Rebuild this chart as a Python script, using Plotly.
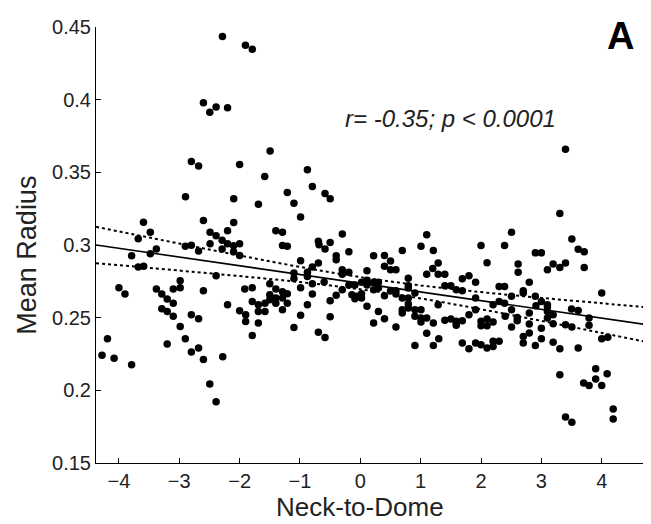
import plotly.graph_objects as go

# Scatter data: (Neck-to-Dome, Mean Radius)
neck_to_dome = [
    -2.285, -1.904, -1.79, -2.6, -2.495, -2.39, -2.2, -1.495, -2.80, -2.68, -2.0,
    -1.584, -2.897, -2.098, -1.689, -3.593, -2.60, -2.098, -3.48, -2.49, -2.39, -2.2, -3.68, -2.29,
    -2.49, -2.2, -2.0, -2.90, -2.80, -2.10, -3.38, -2.68, -2.29, -2.10, -3.79, -3.48, -2.0, -3.68,
    -3.59, -2.39, -2.985, -4.0, -3.90, -3.38, -3.29, -3.20, -3.10, -3.10, -2.985, -2.60, -1.915,
    -1.79, -2.2, -3.29, -3.2, -2.0, -1.79, -1.69, -1.58, -1.50, -1.50, -1.69, -1.58,
    -3.10, -2.985, -2.80, -2.68, -4.19, -4.28, -4.08, -3.79, -3.2, -2.90, -2.80, -2.68, -2.60, -2.28,
    -2.495, -2.39, -1.9, -1.9, -1.79, -1.69,
    -0.877, -0.795, -1.21, -0.585, -0.50, -1.10, -0.99, -1.40, -1.29, -0.298, -0.695, -0.684, -0.50,
    -1.29, -1.21, -0.585, 1.10, 1.005, 1.21, -0.19, -0.40, -0.40, 0.22, 0.40, 0.695, 0.50, -0.99,
    -0.695, 1.29, 0.40, 0.50, 0.59, 1.20, 1.10, 1.29, 1.40, 0.11, -0.30, -0.19, -0.30, -0.877,
    -0.877, -0.795, -1.10, -1.10, -0.99, -1.50, -1.40, -1.29, -1.21, -1.40, -1.40, -1.29, -1.21,
    -1.29, -0.795, -0.795, -0.877, -0.60, -0.50, -0.40, -0.30, -0.19, -0.09, -0.14, -0.06, -0.09,
    0.02, 0.11, 0.11, 0.22, 0.30, 0.22, 0.30, 0.02, 0.02, 0.11, 0.30, 0.40, 0.50, 0.59, 0.59,
    0.695, 0.795, 0.695, 0.795, 0.795, 0.795, 0.795, 0.795, 0.905, 0.905, 1.005, 1.40, 1.50, 1.59, 1.29,
    3.306, 2.505, 2.0, 2.39, 3.505, 2.90, 3.0, 3.61, 3.71, 2.10, 2.615, 2.615, 3.195, 3.40, 3.10,
    3.306, 3.71, 1.69, 1.80, 1.91, 2.30, 2.39, 2.80, 2.70, 2.70, 1.69, 2.505, 2.90, 1.91, 4.0,
    2.30, 2.39, 2.20, 3.0, 3.10, 3.10, 2.91, 2.505, 1.91, 3.50, 3.61,
    1.69, 1.80, 1.91, 2.0, 2.10, 2.20, 2.20, 2.30, 1.59, 1.59, 1.69, 1.80, 2.0, 2.0, 2.10, 2.10,
    2.20, 2.40, 2.505, 2.60, 2.60, 2.70, 2.70, 2.80, 2.80, 2.80, 2.90, 3.0, 3.0, 3.10, 3.10, 3.195,
    3.195, 3.195, 3.306, 3.40, 3.505, 3.61, 3.79, 3.79, 4.0, 4.10, 3.306, 3.70, 3.79, 3.90, 3.90,
    4.0, 4.09, 3.40, 3.505, 4.19, 4.19,
    -0.99, -1.10, -0.695, -0.585, -0.50, 0.22, 0.40, 0.59, 0.695, 0.905, 1.005, 1.005, 1.10, 1.21,
    1.10, 1.30, 0.905, 1.21, 1.40, 1.50, 1.59,
    3.40,
]
mean_radius = [
    0.4435, 0.4375, 0.4347, 0.3978, 0.3914, 0.395, 0.3944, 0.3646, 0.3575, 0.3543, 0.3554,
    0.3472, 0.3332, 0.3318, 0.3281, 0.3157, 0.3169, 0.3155, 0.3087, 0.3087, 0.3063, 0.3098, 0.3043, 0.3032,
    0.3008, 0.3008, 0.3008, 0.2992, 0.2999, 0.2994, 0.2972, 0.2958, 0.2972, 0.2953, 0.2926, 0.294, 0.2928, 0.2848,
    0.2853, 0.2788, 0.2754, 0.2706, 0.2662, 0.2697, 0.2662, 0.2628, 0.2600, 0.2697, 0.2706, 0.2685, 0.2697,
    0.2706, 0.2589, 0.2561, 0.2543, 0.2547, 0.2612, 0.2589, 0.26, 0.2623, 0.2658, 0.2543, 0.2543,
    0.2509, 0.244, 0.252, 0.2492, 0.2355, 0.2241, 0.222, 0.2176, 0.2318, 0.2355, 0.2263, 0.2291, 0.2213, 0.2231,
    0.2043, 0.1922, 0.252, 0.2474, 0.2378, 0.2463,
    0.3517, 0.3403, 0.3362, 0.3355, 0.3318, 0.3288, 0.3192, 0.3098, 0.3087, 0.3075, 0.3025, 0.3001, 0.3018,
    0.2997, 0.2992, 0.2972, 0.307, 0.2992, 0.2963, 0.2953, 0.2926, 0.2898, 0.2926, 0.2928, 0.2963, 0.289, 0.2891,
    0.2876, 0.2876, 0.2853, 0.2829, 0.2829, 0.2839, 0.2798, 0.2798, 0.2798, 0.2823, 0.2829, 0.2813, 0.2799, 0.2813,
    0.2784, 0.2848, 0.2807, 0.277, 0.2706, 0.2733, 0.2697, 0.2678, 0.2664, 0.2635, 0.26, 0.2635, 0.26,
    0.2554, 0.2733, 0.2662, 0.2589, 0.2745, 0.2616, 0.2655, 0.2692, 0.2724, 0.2724, 0.2658, 0.2647, 0.263,
    0.2743, 0.2757, 0.2724, 0.2743, 0.2743, 0.2692, 0.2704, 0.2664, 0.2635, 0.2578, 0.2543, 0.2651, 0.2685, 0.2685, 0.2662,
    0.2635, 0.2635, 0.2554, 0.2772, 0.2719, 0.2704, 0.2594, 0.2566, 0.2669, 0.2554, 0.2554, 0.2719, 0.2719, 0.2692, 0.2589,
    0.3217, 0.3087, 0.2997, 0.2997, 0.3041, 0.2946, 0.2946, 0.297, 0.2953, 0.2878, 0.2869, 0.2812, 0.2869, 0.2876, 0.2829,
    0.2846, 0.2846, 0.2767, 0.2788, 0.2743, 0.2715, 0.2715, 0.2743, 0.2685, 0.2669, 0.2685, 0.2647, 0.2647, 0.2635, 0.2669,
    0.2612, 0.26, 0.2589, 0.2612, 0.2589, 0.2573, 0.2582, 0.2554, 0.2554, 0.2559, 0.255,
    0.2325, 0.2286, 0.2325, 0.2314, 0.2291, 0.2337, 0.2302, 0.2337, 0.2475, 0.2447, 0.2479, 0.252, 0.2475, 0.2444, 0.249, 0.2444,
    0.247, 0.2509, 0.2435, 0.2502, 0.2479, 0.2371, 0.2325, 0.2532, 0.2456, 0.2394, 0.2309, 0.2428, 0.2355, 0.2543, 0.2497, 0.252,
    0.2458, 0.233, 0.2286, 0.2451, 0.2435, 0.2291, 0.2497, 0.2447, 0.2355, 0.2365, 0.2107, 0.205, 0.2034, 0.2149, 0.2078,
    0.2034, 0.2114, 0.1816, 0.178, 0.1871, 0.1803,
    0.2516, 0.2433, 0.2399, 0.2364, 0.2506, 0.2463, 0.2492, 0.2435, 0.2532, 0.2509, 0.2497, 0.247, 0.2497, 0.2463,
    0.2392, 0.2355, 0.2309, 0.2309, 0.2483, 0.249, 0.2463,
    0.3658,
]

# Regression line and confidence band
fit_x = [-4.38, -3, -2, -1, 0, 1, 2, 3, 4, 4.8]
fit_y = [0.3000, 0.2917, 0.2857, 0.2797, 0.2737, 0.2677, 0.2617, 0.2557, 0.2497, 0.2449]
band_upper = [0.3125, 0.3010, 0.2928, 0.2849, 0.2779, 0.2722, 0.2676, 0.2636, 0.2599, 0.2570]
band_lower = [0.2875, 0.2824, 0.2786, 0.2745, 0.2695, 0.2632, 0.2558, 0.2478, 0.2395, 0.2328]

x_ticks = [-4, -3, -2, -1, 0, 1, 2, 3, 4]
y_ticks = [0.15, 0.2, 0.25, 0.3, 0.35, 0.4, 0.45]
y_tick_labels = ["0.15", "0.2", "0.25", "0.3", "0.35", "0.4", "0.45"]

FONT = "Liberation Sans, Arial, sans-serif"

fig = go.Figure()
fig.add_trace(go.Scatter(x=fit_x, y=band_upper, mode="lines", line=dict(color="black", width=2, dash="dot", shape="spline"), showlegend=False, hoverinfo="skip"))
fig.add_trace(go.Scatter(x=fit_x, y=band_lower, mode="lines", line=dict(color="black", width=2, dash="dot", shape="spline"), showlegend=False, hoverinfo="skip"))
fig.add_trace(go.Scatter(x=fit_x, y=fit_y, mode="lines", line=dict(color="black", width=1.6), showlegend=False, hoverinfo="skip"))
fig.add_trace(go.Scatter(x=neck_to_dome, y=mean_radius, mode="markers",
                         marker=dict(color="black", size=7.5, line=dict(width=0)), showlegend=False))

fig.add_annotation(x=-0.28, y=0.387, xref="x", yref="y", text="<i>r= -0.35; p &lt; 0.0001</i>",
                   showarrow=False, xanchor="left", yanchor="middle",
                   font=dict(family=FONT, size=24, color="#222"))
fig.add_annotation(x=0.946, y=0.979, xref="paper", yref="paper", text="<b>A</b>",
                   showarrow=False, xanchor="center", yanchor="middle",
                   font=dict(family=FONT, size=38, color="black"))
# Axis titles (placed as in the reference)
fig.add_annotation(x=0, y=-0.102, xref="x", yref="paper", text="Neck-to-Dome",
                   showarrow=False, xanchor="center", yanchor="middle", borderpad=0,
                   font=dict(family=FONT, size=26, color="#222"))
fig.add_annotation(x=-0.1236, y=0.293, xref="paper", yref="y", text="Mean Radius", textangle=-90,
                   showarrow=False, xanchor="center", yanchor="middle", borderpad=0,
                   font=dict(family=FONT, size=27, color="#222"))

fig.update_layout(
    width=651, height=524,
    margin=dict(l=88, r=9, t=19, b=69),
    paper_bgcolor="white", plot_bgcolor="white",
    font=dict(family=FONT, color="black"),
    xaxis=dict(range=[-4.38, 4.8], tickvals=x_ticks, ticks="inside", ticklen=5, tickcolor="black",
               showline=True, linecolor="black", linewidth=1, showgrid=False, zeroline=False,
               automargin=False, tickfont=dict(size=20, color="#222")),
    yaxis=dict(range=[0.15, 0.45], tickvals=y_ticks, ticktext=y_tick_labels, ticks="inside", ticklen=5,
               tickcolor="black", showline=True, linecolor="black", linewidth=1, showgrid=False,
               zeroline=False, automargin=False, tickfont=dict(size=20, color="#222")),
)

fig.write_html("out.html")
